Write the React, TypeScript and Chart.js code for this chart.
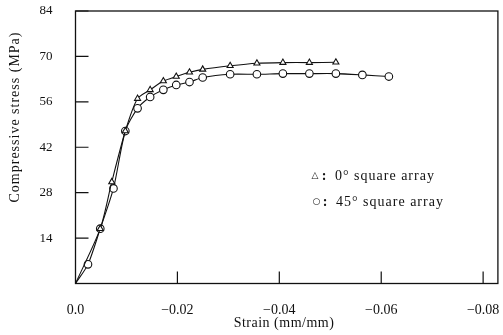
import React, { useEffect, useRef } from "react";
import { Chart, registerables } from "chart.js";

Chart.register(...registerables);

// 0° square array (triangles)
const strain0 = [0, -0.00486, -0.00712, -0.00978, -0.01218, -0.01465, -0.01724, -0.01977, -0.02237, -0.02496, -0.03035, -0.0356, -0.0407, -0.0459, -0.0511];
const stress0 = [0, 16.9, 31.3, 47.0, 57.0, 59.7, 62.4, 63.8, 65.1, 66.0, 67.1, 67.9, 68.1, 68.1, 68.2];
// 45° square array (circles)
const strain45 = [0, -0.00245, -0.00486, -0.00745, -0.00978, -0.01218, -0.01465, -0.01724, -0.01977, -0.02237, -0.02496, -0.03035, -0.0356, -0.0407, -0.0459, -0.0511, -0.0563, -0.0615];
const stress45 = [0, 5.9, 16.9, 29.3, 47.0, 54.0, 57.5, 59.7, 61.2, 62.1, 63.5, 64.5, 64.5, 64.7, 64.7, 64.7, 64.3, 63.8];

const xTicks = [0, -0.02, -0.04, -0.06, -0.08];
const xTickLabels = ["0.0", "\u22120.02", "\u22120.04", "\u22120.06", "\u22120.08"];
const yTicks = [14, 28, 42, 56, 70, 84];
const yTickLabels = ["14", "28", "42", "56", "70", "84"];

const xTitle = "Strain (mm/mm)";
const yTitle = "Compressive stress (MPa)";
const legend0Sym = "\u25B3";
const legend0 = "0\u00B0 square array";
const legend45Sym = "\u25CB";
const legend45 = "45\u00B0 square array";

const FONT = "'Liberation Serif', 'DejaVu Serif', serif";
const INK = "#111";

export default function App() {
  const ref = useRef<HTMLCanvasElement | null>(null);
  useEffect(() => {
    const canvas = ref.current;
    if (!canvas) return;
    const framePlugin = {
      id: "frame",
      afterDraw(chart: any) {
        const ctx = chart.ctx;
        const a = chart.chartArea;
        const xs = chart.scales.x;
        const ys = chart.scales.y;
        ctx.save();
        ctx.strokeStyle = INK;
        ctx.lineWidth = 1.3;
        ctx.strokeRect(a.left, a.top, a.right - a.left, a.bottom - a.top);
        ctx.lineWidth = 1.2;
        ctx.beginPath();
        xTicks.forEach((v) => {
          if (v === 0) return;
          const px = xs.getPixelForValue(v);
          ctx.moveTo(px, a.bottom);
          ctx.lineTo(px, a.bottom - 12);
        });
        yTicks.forEach((v) => {
          const py = ys.getPixelForValue(v);
          ctx.moveTo(a.left, py);
          ctx.lineTo(a.left + 13, py);
        });
        ctx.stroke();
        ctx.fillStyle = INK;
        ctx.font = `14px ${FONT}`;
        ctx.textAlign = "center";
        ctx.textBaseline = "middle";
        (ctx as any).letterSpacing = "0.5px";
        ctx.fillText(xTitle, 284, 323);
        (ctx as any).letterSpacing = "1px";
        ctx.save();
        ctx.translate(15, 117);
        ctx.rotate(-Math.PI / 2);
        ctx.fillText(yTitle, 0, 0);
        ctx.restore();
        (ctx as any).letterSpacing = "0px";
        ctx.textAlign = "center";
        ctx.font = `9px 'DejaVu Sans', sans-serif`;
        ctx.fillText(legend0Sym, 315, 176);
        ctx.fillText(legend45Sym, 316.5, 202);
        ctx.font = `bold 14px ${FONT}`;
        ctx.fillText(":", 324, 176);
        ctx.fillText(":", 325, 202);
        ctx.textAlign = "left";
        ctx.font = `14px ${FONT}`;
        (ctx as any).letterSpacing = "1px";
        ctx.fillText(legend0, 335, 176);
        ctx.fillText(legend45, 336, 202);
        ctx.restore();
      },
    };
    const chart = new Chart(canvas, {
      type: "line",
      data: {
        datasets: [
          {
            label: "0° square array",
            data: strain0.map((x, i) => ({ x, y: stress0[i] })),
            borderColor: INK,
            borderWidth: 1.1,
            backgroundColor: "#fff",
            pointStyle: "triangle",
            pointRadius: strain0.map((_, i) => (i === 0 ? 0 : 3.5)),
            pointBorderColor: INK,
            pointBorderWidth: 1.1,
            pointBackgroundColor: "#fff",
            tension: 0.25,
            fill: false,
          },
          {
            label: "45° square array",
            data: strain45.map((x, i) => ({ x, y: stress45[i] })),
            borderColor: INK,
            borderWidth: 1.1,
            backgroundColor: "#fff",
            pointStyle: "circle",
            pointRadius: strain45.map((_, i) => (i === 0 ? 0 : 3.8)),
            pointBorderColor: INK,
            pointBorderWidth: 1.1,
            pointBackgroundColor: "#fff",
            tension: 0.25,
            fill: false,
          },
        ],
      },
      options: {
        responsive: false,
        animation: false,
        layout: { padding: { top: 11, right: 1.5, left: 0, bottom: 0 } },
        plugins: { legend: { display: false }, tooltip: { enabled: false } },
        scales: {
          x: {
            type: "linear",
            reverse: true,
            min: -0.0829,
            max: 0,
            border: { display: false },
            grid: { display: false },
            afterBuildTicks: (s: any) => {
              s.ticks = xTicks.map((v) => ({ value: v }));
            },
            afterFit: (s: any) => {
              s.height = 335 - 283.5;
              s.paddingLeft = 0;
              s.paddingRight = 0;
            },
            ticks: {
              padding: 10,
              maxRotation: 0,
              autoSkip: false,
              color: INK,
              font: { family: FONT, size: 14 },
              callback: (v: any) => {
                const i = xTicks.findIndex((t) => Math.abs(t - v) < 1e-9);
                return i >= 0 ? xTickLabels[i] : "";
              },
            },
          },
          y: {
            type: "linear",
            min: 0,
            max: 84,
            border: { display: false },
            grid: { display: false },
            afterBuildTicks: (s: any) => {
              s.ticks = yTicks.map((v) => ({ value: v }));
            },
            afterFit: (s: any) => {
              s.width = 75.5;
              s.paddingTop = 0;
              s.paddingBottom = 0;
            },
            ticks: {
              padding: 15,
              color: INK,
              font: { family: FONT, size: 13 },
              callback: (v: any) => {
                const i = yTicks.findIndex((t) => Math.abs(t - v) < 1e-9);
                return i >= 0 ? yTickLabels[i] : "";
              },
            },
          },
        },
      },
      plugins: [framePlugin],
    });
    return () => chart.destroy();
  }, []);
  return (
    <div style={{ position: "fixed", left: 0, top: 0, width: 503, height: 335, background: "#fff" }}>
      <canvas ref={ref} width={503} height={335} style={{ width: 503, height: 335, display: "block" }} />
    </div>
  );
}
